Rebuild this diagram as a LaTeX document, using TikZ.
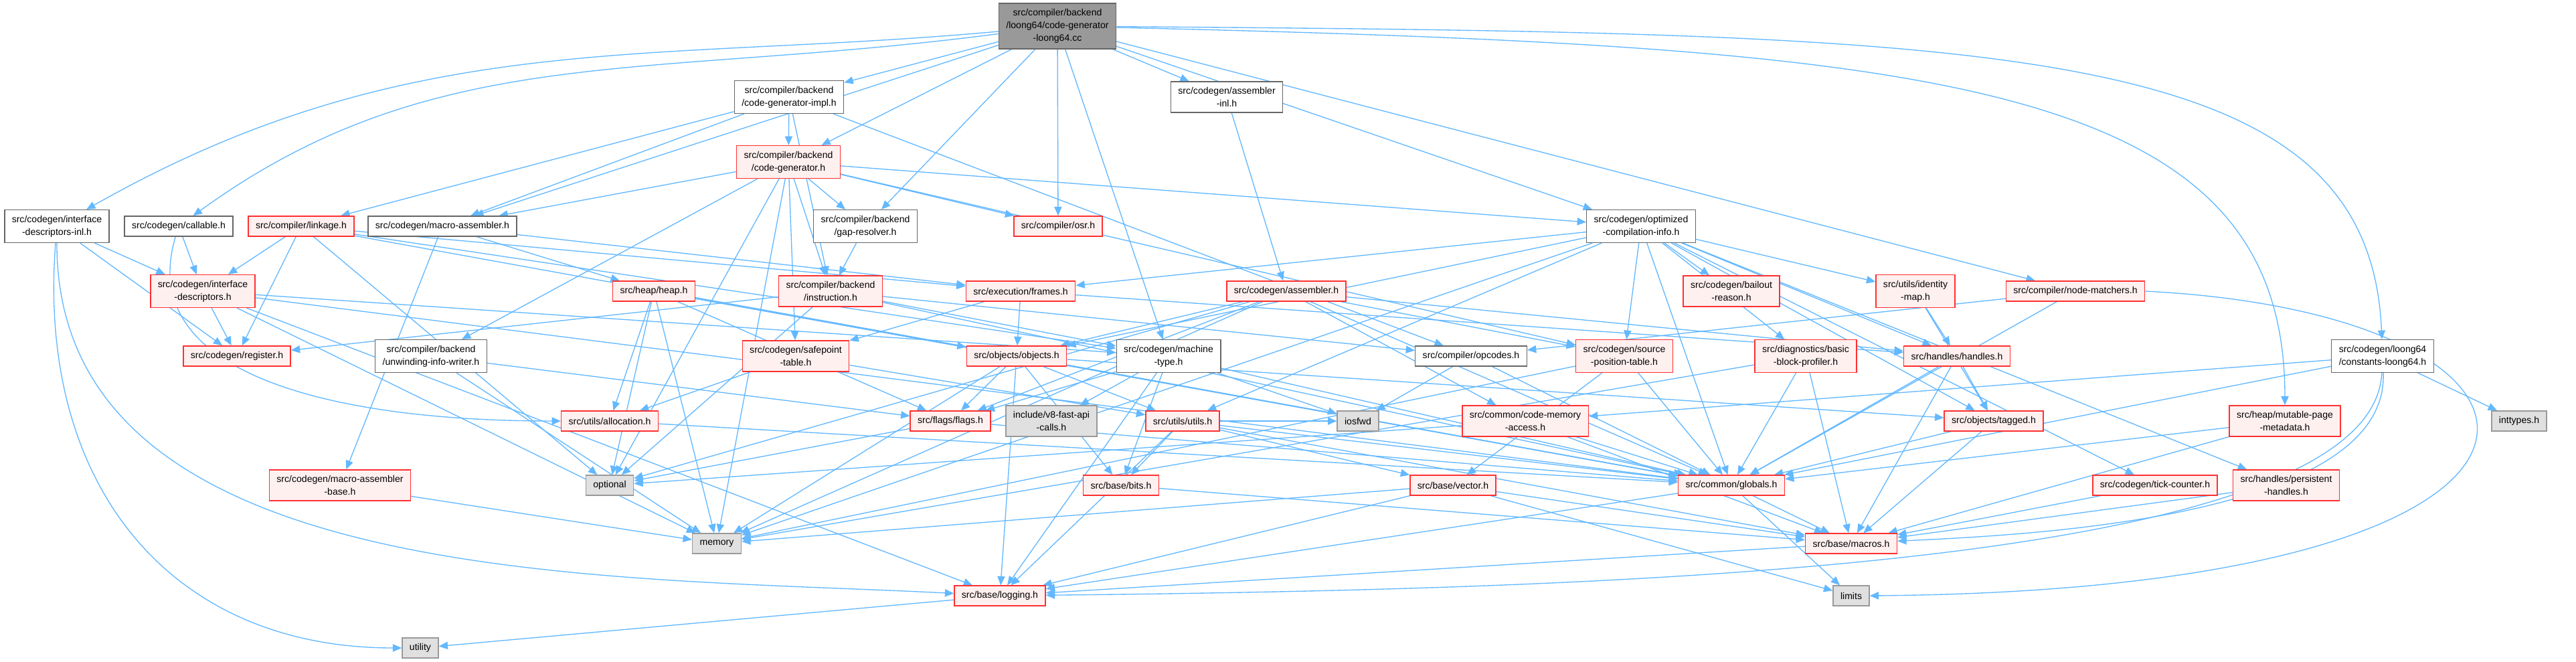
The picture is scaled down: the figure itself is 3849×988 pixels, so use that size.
\documentclass[tikz,border=0pt]{standalone}
\usepackage{fontspec}
\setmainfont{Liberation Sans}
\usepackage{tikz}
\usetikzlibrary{arrows.meta,backgrounds}
\definecolor{edgec}{HTML}{63B8FF}
\definecolor{redb}{HTML}{FF3030}
\definecolor{redf}{HTML}{FFF0F0}
\definecolor{sysf}{HTML}{E0E0E0}
\definecolor{sysd}{HTML}{999999}
\definecolor{srcf}{HTML}{999999}
\definecolor{plaind}{HTML}{666666}

\begin{document}
\begin{tikzpicture}[x=0.025cm,y=0.025cm,
  s/.style={draw,inner xsep=7.8pt,inner ysep=5.9pt,minimum height=21.3pt,
            font=\fontsize{10}{13.5}\selectfont,align=center,line width=1pt},
  plain/.style={s,draw=plaind,fill=white},
  inc/.style={s,draw=redb,fill=redf},
  sys/.style={s,draw=sysd,fill=sysf},
  src/.style={s,draw=plaind,fill=srcf},
  e/.style={draw=edgec,line width=0.95pt,-{Triangle[length=9.5pt,width=8pt]}}]

\useasboundingbox (0,0) rectangle (3849,-988);

\node[src]   (root) at (1580,-39) {src/compiler/backend\\/loong64/code-generator\\-loong64.cc};
\node[plain] (cgimpl) at (1179,-145) {src/compiler/backend\\/code-generator-impl.h};
\node[plain] (asminl) at (1833,-145) {src/codegen/assembler\\-inl.h};
\node[inc]   (cgh) at (1178,-242) {src/compiler/backend\\/code-generator.h};

\node[plain] (idinl) at (85,-338) {src/codegen/interface\\-descriptors-inl.h};
\node[plain] (callable) at (267,-338) {src/codegen/callable.h};
\node[inc]   (linkage) at (450,-338) {src/compiler/linkage.h};
\node[plain] (macroasm) at (661,-338) {src/codegen/macro-assembler.h};
\node[plain] (gapres) at (1293,-338) {src/compiler/backend\\/gap-resolver.h};
\node[inc]   (osr) at (1581,-338) {src/compiler/osr.h};
\node[plain] (optcomp) at (2452,-338) {src/codegen/optimized\\-compilation-info.h};

\node[inc] (idh) at (303,-435) {src/codegen/interface\\-descriptors.h};
\node[inc] (heap) at (977,-435) {src/heap/heap.h};
\node[inc] (instr) at (1241,-435) {src/compiler/backend\\/instruction.h};
\node[inc] (frames) at (1525,-435) {src/execution/frames.h};
\node[inc] (assembler) at (1922,-435) {src/codegen/assembler.h};
\node[inc] (bailout) at (2587,-435) {src/codegen/bailout\\-reason.h};
\node[inc] (identity) at (2862,-435) {src/utils/identity\\-map.h};
\node[inc] (nodematch) at (3101,-435) {src/compiler/node-matchers.h};

\node[inc]   (register) at (354,-532) {src/codegen/register.h};
\node[plain] (unwinding) at (644,-532) {src/compiler/backend\\/unwinding-info-writer.h};
\node[inc]   (safepoint) at (1189,-532) {src/codegen/safepoint\\-table.h};
\node[inc]   (objects) at (1519,-532) {src/objects/objects.h};
\node[plain] (machtype) at (1746,-532) {src/codegen/machine\\-type.h};
\node[plain] (opcodes) at (2198,-532) {src/compiler/opcodes.h};
\node[inc]   (sourcepos) at (2427,-532) {src/codegen/source\\-position-table.h};
\node[inc]   (bbprof) at (2698,-532) {src/diagnostics/basic\\-block-profiler.h};
\node[inc]   (handles) at (2924,-532) {src/handles/handles.h};
\node[plain] (constants) at (3560,-532) {src/codegen/loong64\\/constants-loong64.h};

\node[inc] (allocation) at (911,-629) {src/utils/allocation.h};
\node[inc] (flags) at (1420,-629) {src/flags/flags.h};
\node[sys] (fastapi) at (1571,-629) {include/v8-fast-api\\-calls.h};
\node[inc] (utils) at (1767,-629) {src/utils/utils.h};
\node[sys] (iosfwd) at (2029,-629) {iosfwd};
\node[inc] (codemem) at (2279,-629) {src/common/code-memory\\-access.h};
\node[inc] (tagged) at (2979,-629) {src/objects/tagged.h};
\node[inc] (mutable) at (3414,-629) {src/heap/mutable-page\\-metadata.h};
\node[sys] (inttypes) at (3764,-629) {inttypes.h};

\node[inc] (masmbase) at (508,-725) {src/codegen/macro-assembler\\-base.h};
\node[sys] (optional) at (911,-725) {optional};
\node[inc] (bits) at (1675,-725) {src/base/bits.h};
\node[inc] (vector) at (2171,-725) {src/base/vector.h};
\node[inc] (globals) at (2587,-725) {src/common/globals.h};
\node[inc] (tick) at (3220,-725) {src/codegen/tick-counter.h};
\node[inc] (persistent) at (3416,-725) {src/handles/persistent\\-handles.h};

\node[sys] (memory) at (1071,-812) {memory};
\node[inc] (macros) at (2766,-812) {src/base/macros.h};
\node[inc] (logging) at (1494,-890) {src/base/logging.h};
\node[sys] (limits) at (2766,-890) {limits};
\node[sys] (utility) at (628,-968) {utility};

\begin{scope}[on background layer]
\draw[e] (root) .. controls (963,-95) and (610,-40) .. (idinl);
\draw[e] (root) .. controls (960,-120) and (650,-60) .. (callable);
\draw[e] (root) .. controls (2900,-70) and (3414,-120) .. (mutable);
\draw[e] (root) .. controls (3000,-50) and (3540,-60) .. (constants);
\path (root) edge[e] (macroasm) edge[e] (cgimpl) edge[e] (cgh) edge[e] (gapres) edge[e] (osr)
  edge[e] (machtype) edge[e] (asminl) edge[e] (optcomp) edge[e] (nodematch);
\path (cgimpl) edge[e] (cgh) edge[e] (linkage) edge[e] (macroasm) edge[e] (instr) edge[e] (opcodes);
\path (cgh) edge[e] (macroasm) edge[e] (gapres) edge[e] (osr) edge[e] (optcomp) edge[e] (instr)
  edge[e] (safepoint) edge[e] (sourcepos) edge[e] (unwinding) edge[e] (memory) edge[e] (optional);
\path (asminl) edge[e] (assembler);
\path (optcomp) edge[e] (frames) edge[e] (objects) edge[e] (sourcepos) edge[e] (globals)
  edge[e] (bailout) edge[e] (identity) edge[e] (handles) edge[e] (bbprof) edge[e] (tagged)
  edge[e] (tick) edge[e] (persistent) edge[e] (utils) edge[e] (memory);
\draw[e] (idinl) .. controls (55,-720) and (250,-968) .. (utility);
\draw[e] (idinl) .. controls (84,-880) and (900,-860) .. (logging);
\path (idinl) edge[e] (idh) edge[e] (register);
\draw[e] (callable) .. controls (200,-560) and (500,-629) .. (allocation);
\path (callable) edge[e] (idh);
\path (linkage) edge[e] (idh) edge[e] (register) edge[e] (optional) edge[e] (frames)
  edge[e] (machtype) edge[e] (globals);
\path (macroasm) edge[e] (heap) edge[e] (masmbase) edge[e] (frames);
\path (gapres) edge[e] (instr);
\path (idh) edge[e] (register) edge[e] (logging) edge[e] (memory) edge[e] (globals) edge[e] (machtype);
\path (heap) edge[e] (allocation) edge[e] (optional) edge[e] (memory) edge[e] (objects)
  edge[e] (globals) edge[e] (flags);
\path (instr) edge[e] (register) edge[e] (opcodes) edge[e] (machtype) edge[e] (globals) edge[e] (optional);
\path (frames) edge[e] (objects) edge[e] (safepoint) edge[e] (handles);
\path (assembler) edge[e] (objects) edge[e] (flags) edge[e] (sourcepos) edge[e] (handles)
  edge[e] (codemem) edge[e] (globals) edge[e] (memory) edge[e] (optional);
\path (safepoint) edge[e] (allocation) edge[e] (utils);
\path (objects) edge[e] (flags) edge[e] (utils) edge[e] (memory) edge[e] (logging)
  edge[e] (globals) edge[e] (bits) edge[e] (tagged);
\path (machtype) edge[e] (fastapi) edge[e] (flags) edge[e] (iosfwd) edge[e] (logging)
  edge[e] (bits) edge[e] (globals);
\path (flags) edge[e] (optional) edge[e] (globals);
\path (utils) edge[e] (bits) edge[e] (logging) edge[e] (vector) edge[e] (globals)
  edge[e] (macros) edge[e] (iosfwd);
\path (opcodes) edge[e] (iosfwd) edge[e] (globals);
\path (sourcepos) edge[e] (globals) edge[e] (vector) edge[e] (memory);
\path (bbprof) edge[e] (globals) edge[e] (macros) edge[e] (memory);
\path (handles) edge[e] (tagged) edge[e] (globals) edge[e] (macros);
\path (identity) edge[e] (handles) edge[e] (tagged);
\path (tagged) edge[e] (globals) edge[e] (macros);
\path (nodematch) edge[e] (opcodes) edge[e] (globals);
\draw[e] (nodematch.east) .. controls (3900,-470) and (3950,-880) .. (limits.east);
\path (constants) edge[e] (codemem) edge[e] (globals) edge[e] (inttypes);
\draw[e] (constants) .. controls (3545,-850) and (2400,-880) .. (logging);
\draw[e] (constants) .. controls (3570,-780) and (3000,-800) .. (macros);
\path (mutable) edge[e] (globals) edge[e] (macros);
\path (codemem) edge[e] (optional) edge[e] (globals) edge[e] (macros);
\path (allocation) edge[e] (globals);
\path (unwinding) edge[e] (flags) edge[e] (memory);
\path (masmbase) edge[e] (memory);
\path (vector) edge[e] (logging) edge[e] (macros) edge[e] (limits) edge[e] (memory);
\path (bits) edge[e] (macros);
\path (globals) edge[e] (macros) edge[e] (limits) edge[e] (logging);
\path (macros) edge[e] (logging);
\path (logging) edge[e] (utility);
\path (tick) edge[e] (macros);
\path (persistent) edge[e] (macros);
\end{scope}
\end{tikzpicture}
\end{document}
